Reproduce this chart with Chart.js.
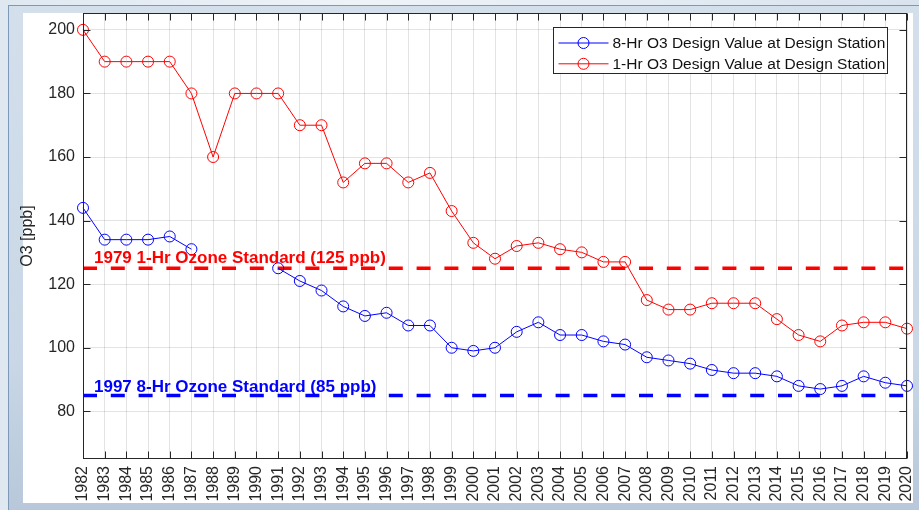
<!DOCTYPE html>
<html>
<head>
<meta charset="utf-8">
<script src="https://cdn.jsdelivr.net/npm/chart.js@4.4.1/dist/chart.umd.min.js"></script>
<style>
html,body{margin:0;padding:0;}
body{width:919px;height:510px;overflow:hidden;position:relative;
  background:linear-gradient(90deg,#dfe8f1 0%,#eef3f8 40%,#d9e3ee 100%);}
#frame{position:absolute;left:8px;top:5px;width:911px;height:505px;box-sizing:border-box;
  background:linear-gradient(180deg,#d3dfeb 0%,#c9d7e6 70%,#b8c8da 100%);
  border-left:1px solid #7e99b7;border-top:1px solid #7e99b7;}
#panel{position:absolute;left:23px;top:13px;width:890px;height:490px;background:#ffffff;}
#wrap{position:absolute;left:0;top:0;width:919px;height:510px;}
</style>
</head>
<body>
<div id="frame"></div>
<div id="panel"></div>
<div id="wrap"><canvas id="c" width="919" height="510"></canvas></div>
<script>
// ---- data ----
const years = ['1982','1983','1984','1985','1986','1987','1988','1989','1990','1991',
  '1992','1993','1994','1995','1996','1997','1998','1999','2000','2001',
  '2002','2003','2004','2005','2006','2007','2008','2009','2010','2011',
  '2012','2013','2014','2015','2016','2017','2018','2019','2020'];
const eightHr = [144,134,134,134,135,131,null,null,null,125,
  121,118,113,110,111,107,107,100,99,100,
  105,108,104,104,102,101,97,96,95,93,
  92,92,91,88,87,88,91,89,88];
const oneHr = [200,190,190,190,190,180,160,180,180,180,
  170,170,152,158,158,152,155,143,133,128,
  132,133,131,130,127,127,115,112,112,114,
  114,114,109,104,102,107,108,108,106];
const yTicks = [80,100,120,140,160,180,200];
const seriesLabels = ['8-Hr O3 Design Value at Design Station','1-Hr O3 Design Value at Design Station'];
const standardValues = [125, 85];
const standardLabels = ['1979 1-Hr Ozone Standard (125 ppb)','1997 8-Hr Ozone Standard (85 ppb)'];
const yTitle = 'O3 [ppb]';

// ---- styles ----
const FONT = '"Liberation Sans", Arial, Helvetica, sans-serif';
const AXIS = '#262626';
const BLUE = '#0000ff';
const RED = '#ff0000';
const standardColors = [RED, BLUE];
const standardTextDy = [-5.5, -3.5];

const standardsPlugin = {
  id: 'standards',
  beforeDatasetsDraw(chart) {
    const {ctx, chartArea: a, scales: {y}} = chart;
    ctx.save();
    ctx.beginPath(); ctx.rect(a.left, a.top, a.right - a.left, a.bottom - a.top); ctx.clip();
    standardValues.forEach((v, i) => {
      const py = y.getPixelForValue(v);
      ctx.strokeStyle = standardColors[i];
      ctx.lineWidth = 3.5;
      ctx.setLineDash([14, 13.8]);
      ctx.beginPath(); ctx.moveTo(a.left, py); ctx.lineTo(a.right, py); ctx.stroke();
    });
    ctx.restore();
  },
  afterDatasetsDraw(chart) {
    const {ctx, chartArea: a, scales: {x, y}} = chart;
    ctx.save();
    ctx.font = 'bold 17px ' + FONT;
    ctx.textAlign = 'left';
    ctx.textBaseline = 'alphabetic';
    standardValues.forEach((v, i) => {
      ctx.fillStyle = standardColors[i];
      ctx.fillText(standardLabels[i], x.getPixelForValue(0) + 11, y.getPixelForValue(v) + standardTextDy[i]);
    });
    ctx.restore();
  }
};

const boxPlugin = {
  id: 'box',
  afterDraw(chart) {
    const {ctx, chartArea: a, scales: {x, y}} = chart;
    const L = Math.round(a.left) + 0.5, R = Math.round(a.right) - 0.5;
    const T = Math.round(a.top) + 0.5, B = Math.round(a.bottom) - 0.5;
    const tl = 7;
    ctx.save();
    ctx.strokeStyle = AXIS;
    ctx.lineWidth = 1;
    ctx.beginPath();
    x.ticks.forEach((t, i) => {
      const px = Math.round(x.getPixelForTick(i)) + 0.5;
      ctx.moveTo(px, B); ctx.lineTo(px, B - tl);
      ctx.moveTo(px, T); ctx.lineTo(px, T + tl);
    });
    y.ticks.forEach((t, i) => {
      const py = Math.round(y.getPixelForTick(i)) + 0.5;
      ctx.moveTo(L, py); ctx.lineTo(L + tl, py);
      ctx.moveTo(R, py); ctx.lineTo(R - tl, py);
    });
    ctx.stroke();
    ctx.strokeRect(L, T, R - L, B - T);

    // legend (MATLAB style: line with marker)
    ctx.font = '15.5px ' + FONT;
    const ds = chart.data.datasets;
    let tw = 0;
    ds.forEach(d => { tw = Math.max(tw, ctx.measureText(d.label).width); });
    const bw = Math.round(60 + tw + 1.5);
    const bh = 46;
    const bx = Math.round(a.right - 20 - bw) + 0.5;
    const by = Math.round(a.top + 14) + 0.5;
    ctx.fillStyle = '#ffffff';
    ctx.fillRect(bx, by, bw, bh);
    ctx.strokeStyle = AXIS;
    ctx.strokeRect(bx, by, bw, bh);
    ds.forEach((d, i) => {
      const ry = by + 15.5 + i * 20.8;
      ctx.strokeStyle = d.borderColor;
      ctx.lineWidth = 1;
      ctx.beginPath(); ctx.moveTo(bx + 5, ry); ctx.lineTo(bx + 55, ry); ctx.stroke();
      ctx.beginPath(); ctx.arc(bx + 30, ry, d.pointRadius, 0, Math.PI * 2); ctx.stroke();
      ctx.fillStyle = '#111111';
      ctx.textAlign = 'left';
      ctx.textBaseline = 'middle';
      ctx.fillText(d.label, bx + 59, ry + 0.5);
    });
    ctx.restore();
  }
};

const series = (label, data, color) => ({
  label, data,
  borderColor: color, borderWidth: 1,
  pointStyle: 'circle', pointRadius: 5.5, pointBorderWidth: 1,
  pointBorderColor: color, pointBackgroundColor: 'rgba(0,0,0,0)',
  pointHoverRadius: 5.5, tension: 0, spanGaps: false, fill: false
});

const gridColor = 'rgba(38,38,38,0.13)';

new Chart(document.getElementById('c'), {
  type: 'line',
  data: {
    labels: years,
    datasets: [
      series(seriesLabels[0], eightHr, BLUE),
      series(seriesLabels[1], oneHr, RED)
    ]
  },
  options: {
    responsive: false,
    animation: false,
    devicePixelRatio: 1,
    events: [],
    layout: { padding: { left: 0, top: 13, right: 12, bottom: 0 } },
    plugins: { legend: { display: false }, tooltip: { enabled: false } },
    scales: {
      x: {
        type: 'category',
        offset: false,
        grid: { color: gridColor, drawTicks: false, lineWidth: 1 },
        border: { display: false },
        ticks: {
          autoSkip: false, maxRotation: 90, minRotation: 90, padding: 7,
          color: AXIS, font: { family: FONT, size: 16 }
        },
        afterFit: s => { s.height = 51; s.paddingLeft = 0; s.paddingRight = 0; }
      },
      y: {
        type: 'linear',
        min: 65, max: 205.3,
        bounds: 'data',
        grid: { color: gridColor, drawTicks: false, lineWidth: 1 },
        border: { display: false },
        ticks: { padding: 8, color: AXIS, font: { family: FONT, size: 16 } },
        afterBuildTicks: s => { s.ticks = yTicks.map(v => ({ value: v })); },
        title: {
          display: true, text: yTitle, color: AXIS,
          font: { family: FONT, size: 16 }, padding: { top: 18, bottom: 0 }
        },
        afterFit: s => { s.width = 83; s.paddingTop = 0; s.paddingBottom = 0; }
      }
    }
  },
  plugins: [standardsPlugin, boxPlugin]
});
</script>
</body>
</html>
